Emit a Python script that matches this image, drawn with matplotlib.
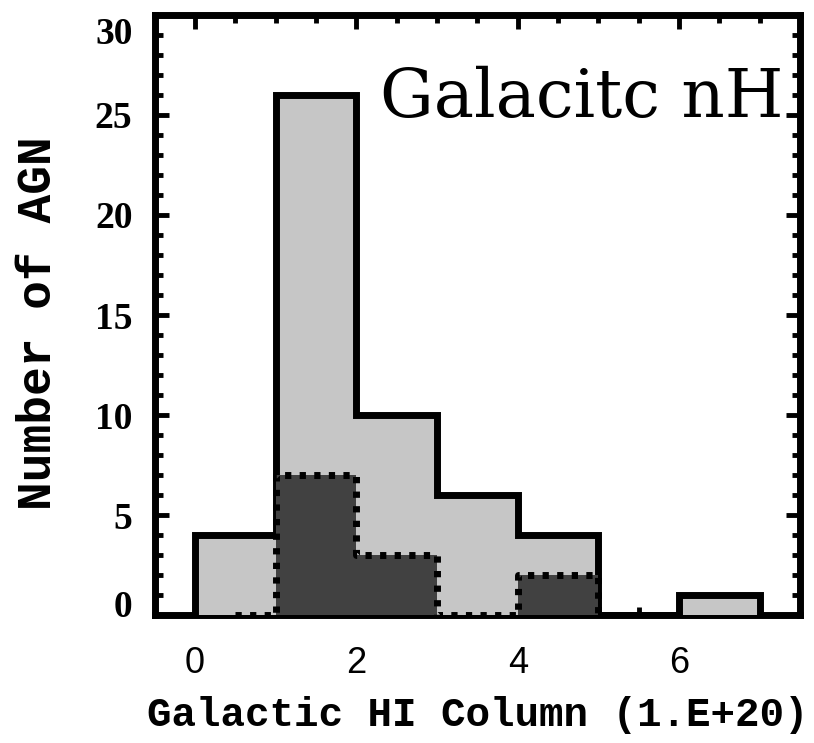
import numpy as np
import matplotlib.pyplot as plt
import matplotlib.transforms as mtransforms
from matplotlib.ticker import MultipleLocator

# histogram of Galactic HI column (units of 1e20 cm^-2)
bin_edges = [0, 1, 2, 3, 4, 5, 6, 7]
all_agn = [4, 26, 10, 6, 4, 0, 1]      # light grey, solid outline
sub_agn = [0, 7, 3, 0, 2, 0]           # dark grey, dotted outline (bins 0-6)
x_ticks = [0, 2, 4, 6]
y_ticks = [0, 5, 10, 15, 20, 25, 30]

light = "#c6c6c6"
dark = "#414141"
mono = "Liberation Mono"

fig = plt.figure(figsize=(8.14, 7.43), dpi=100)
ax = fig.add_axes([0.190, 0.172, 0.793, 0.808])

# fills sit above the axis ticks (like IDL polyfill over the frame)
ax.stairs(all_agn, bin_edges, fill=True, color=light, zorder=3)
ax.stairs(all_agn, bin_edges, color="black", lw=5, zorder=4)
ax.stairs(sub_agn, bin_edges[:len(sub_agn) + 1], fill=True, color=dark, zorder=5)

# dotted outline drawn psym=10 style from the bin centres
centres = np.array(bin_edges[:len(sub_agn)]) + 0.5
ax.step(centres, sub_agn, where="mid", color="black", lw=5,
        linestyle=(0, (0.9, 1.2)), zorder=6)

ax.set_xlim(-0.5, 7.5)
ax.set_ylim(0, 30)

ax.set_xticks(x_ticks)
ax.set_yticks(y_ticks)
ax.xaxis.set_minor_locator(MultipleLocator(0.5))
ax.yaxis.set_minor_locator(MultipleLocator(1))

ax.tick_params(which="both", direction="in", top=True, right=True, width=3.5)
ax.tick_params(which="major", length=10)
ax.tick_params(which="minor", length=6)
ax.tick_params(axis="x", pad=22)
ax.tick_params(axis="y", pad=16)
for lab in ax.get_xticklabels():
    lab.set_fontfamily("Liberation Sans")
    lab.set_fontsize(26)
for lab in ax.get_yticklabels():
    lab.set_fontfamily("Liberation Serif")
    lab.set_fontweight("bold")
    lab.set_fontsize(27)

# end labels of the y axis are pulled inward, as in the original
yt = ax.yaxis.get_major_ticks()
shift_up = mtransforms.ScaledTranslation(0, 8.5 / 72, fig.dpi_scale_trans)
shift_dn = mtransforms.ScaledTranslation(0, -11 / 72, fig.dpi_scale_trans)
yt[0].label1.set_transform(yt[0].label1.get_transform() + shift_up)
yt[-1].label1.set_transform(yt[-1].label1.get_transform() + shift_dn)

for sp in ax.spines.values():
    sp.set_linewidth(5)

ax.set_xlabel("Galactic HI Column (1.E+20)", family=mono, weight="bold", fontsize=29.4)
ax.set_ylabel("Number of AGN", family=mono, weight="bold", fontsize=34.5)
ax.xaxis.set_label_coords(0.5, -0.135)
ax.yaxis.set_label_coords(-0.145, 0.487)

ax.text(0.974, 0.83, "Galacitc nH", transform=ax.transAxes, ha="right",
        va="baseline", family="DejaVu Serif", fontsize=48.5, zorder=7)

fig.savefig("out.png", dpi=100)
